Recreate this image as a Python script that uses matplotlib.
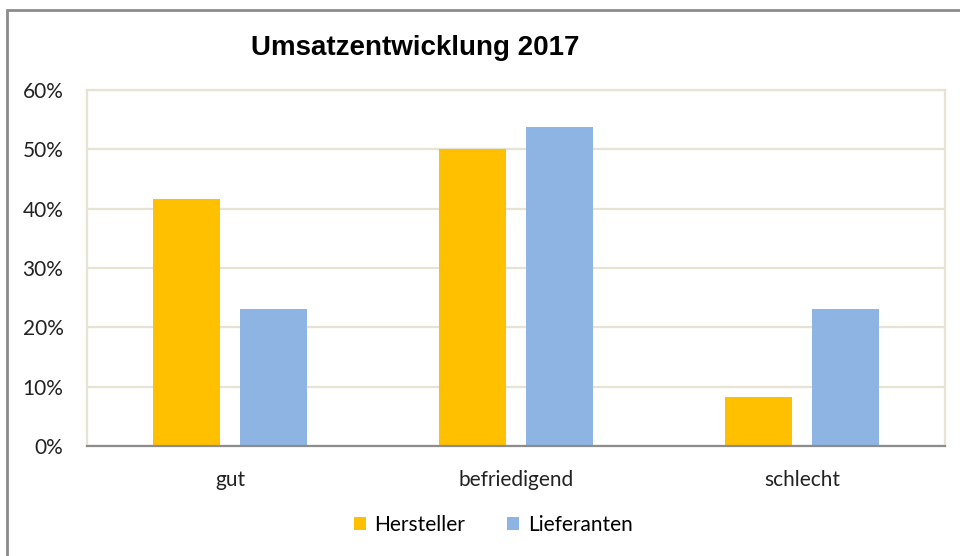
import matplotlib.pyplot as plt
import numpy as np
from matplotlib.patches import Rectangle

kategorien = ["gut", "befriedigend", "schlecht"]
hersteller = [41.7, 50.0, 8.3]
lieferanten = [23.1, 53.8, 23.1]
yticks = [0, 10, 20, 30, 40, 50, 60]

plt.rcParams['font.family'] = ['Lato', 'DejaVu Sans']

fig = plt.figure(figsize=(9.6, 5.56), dpi=100)
ax = fig.add_axes([87/960, 1-446/556, (945-87)/960, (446-90)/556])

x = np.arange(len(kategorien))
breite = 0.234
ax.bar(x - 0.152, hersteller, breite, color="#FFC000", label="Hersteller", zorder=3)
ax.bar(x + 0.152, lieferanten, breite, color="#8EB4E3", label="Lieferanten", zorder=3)

ax.set_xlim(-0.5, 2.5)
ax.set_ylim(0, 60)
ax.set_yticks(yticks)
ax.set_yticklabels([f"{v}%" for v in yticks])
ax.set_xticks(x)
ax.set_xticklabels(kategorien)
ax.tick_params(axis="both", length=0, labelsize=15, colors="#222222")
ax.tick_params(axis="y", pad=17)
ax.tick_params(axis="x", pad=17)
ax.yaxis.grid(True, color="#E6E3D3", linewidth=1.6, zorder=0)
for s in ["left", "right", "top"]:
    ax.spines[s].set_color("#E6E3D3")
    ax.spines[s].set_linewidth(1.6)
ax.spines["bottom"].set_color("#8C8C8C")
ax.spines["bottom"].set_linewidth(1.6)
ax.spines["bottom"].set_zorder(4)

fig.text(415/960, 1-48/556, "Umsatzentwicklung 2017", ha="center", va="center",
         fontsize=20, fontweight="bold", family=["Liberation Sans", "DejaVu Sans"])

fig.legend(loc="center", bbox_to_anchor=(493/960, 1-525/556), ncol=2, frameon=False,
           fontsize=15, handlelength=0.6, handleheight=0.6, columnspacing=2.0,
           handletextpad=0.4)

fig.patches.append(Rectangle((7/960, -0.05), 1.1, 1-10/556+0.05, transform=fig.transFigure,
                             fill=False, edgecolor="#8C8C8C", linewidth=2, zorder=0))

fig.savefig("out.png", dpi=100)
